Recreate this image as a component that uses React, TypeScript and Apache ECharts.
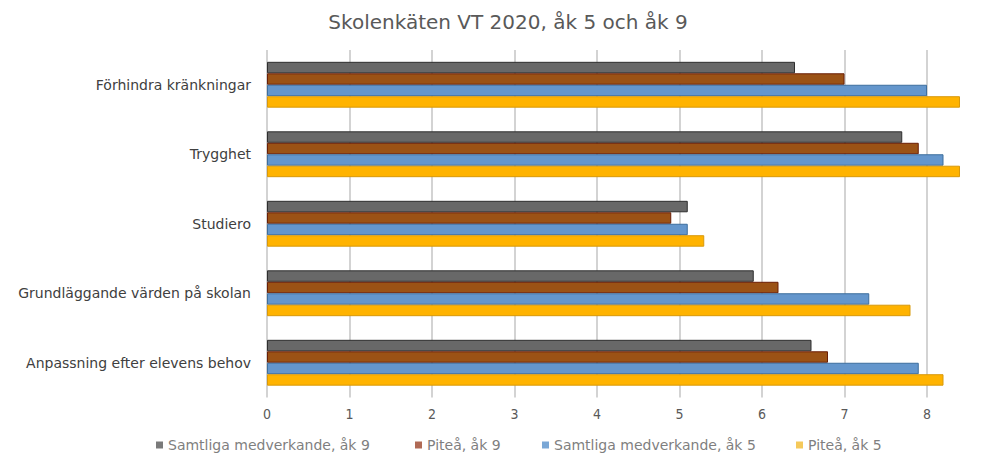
import React, { useEffect, useRef } from "react";
import * as echarts from "echarts";

const categories = [
  "Anpassning efter elevens behov",
  "Grundläggande värden på skolan",
  "Studiero",
  "Trygghet",
  "Förhindra kränkningar",
];
const seriesNames = [
  "Samtliga medverkande, åk 9",
  "Piteå, åk 9",
  "Samtliga medverkande, åk 5",
  "Piteå, åk 5",
];
const samtligaAk9 = [6.6, 5.9, 5.1, 7.7, 6.4];
const piteaAk9 = [6.8, 6.2, 4.9, 7.9, 7.0];
const samtligaAk5 = [7.9, 7.3, 5.1, 8.2, 8.0];
const piteaAk5 = [8.2, 7.8, 5.3, 8.4, 8.4];
const xTicks = [0, 1, 2, 3, 4, 5, 6, 7, 8];

const fills = ["#686868", "#9b5215", "#6496cc", "#ffb300"];
const borders = ["#2e2e2e", "#6a1e06", "#3d6e9d", "#d8990a"];
const legendFills = ["#7a7a7a", "#b06a55", "#7aa7d6", "#f5c95a"];
const legendLefts = [151, 410, 537, 791];

export default function App() {
  const ref = useRef<HTMLDivElement>(null);
  useEffect(() => {
    if (!ref.current) return;
    const chart = echarts.init(ref.current, null, { renderer: "svg" });
    const data = [samtligaAk9, piteaAk9, samtligaAk5, piteaAk5];
    const font = "'DejaVu Sans', sans-serif";
    const series = [0, 1, 2, 3].map((i) => ({
      name: seriesNames[i],
      type: "bar",
      data: data[i],
      barGap: "0%",
      barCategoryGap: "34%",
      itemStyle: { color: fills[i], borderColor: borders[i], borderWidth: 1 },
    }));
    const legends = seriesNames.map((n, i) => ({
      data: [{ name: n, itemStyle: { color: legendFills[i], borderWidth: 0 } }],
      left: legendLefts[i],
      top: 433,
      itemWidth: 7,
      itemHeight: 7,
      icon: "rect",
      textStyle: { fontFamily: font, fontSize: 14, color: "#7f7f7f" },
    }));
    chart.setOption({
      animation: false,
      textStyle: { fontFamily: font },
      title: {
        text: "Skolenkäten VT 2020, åk 5 och åk 9",
        left: 503,
        textAlign: "center",
        top: 7,
        textStyle: { fontFamily: font, fontSize: 20, fontWeight: "normal", color: "#595959" },
      },
      legend: legends,
      grid: { left: 267, top: 50, width: 742.5, height: 347.5, containLabel: false },
      xAxis: {
        type: "value",
        min: 0,
        max: 9,
        interval: 1,
        axisLine: { show: false },
        axisTick: { show: false },
        splitLine: { show: true, lineStyle: { color: "#c4c4c4", width: 1.5 } },
        axisLabel: {
          color: "#595959",
          fontSize: 14,
          margin: 9,
          fontFamily: "'DejaVu Sans Condensed', 'DejaVu Sans', sans-serif",
          formatter: (v: number) => (xTicks.includes(v) ? String(v) : ""),
        },
      },
      yAxis: {
        type: "category",
        data: categories,
        axisLine: { show: false },
        axisTick: { show: false },
        axisLabel: { color: "#404040", fontSize: 14, margin: 16, fontFamily: font },
      },
      series,
    });
    return () => chart.dispose();
  }, []);
  return (
    <div
      style={{ position: "absolute", left: 0, top: 0, width: 1003, height: 453, overflow: "hidden", background: "#fff" }}
    >
      <div ref={ref} style={{ width: 1030, height: 453 }} />
    </div>
  );
}
